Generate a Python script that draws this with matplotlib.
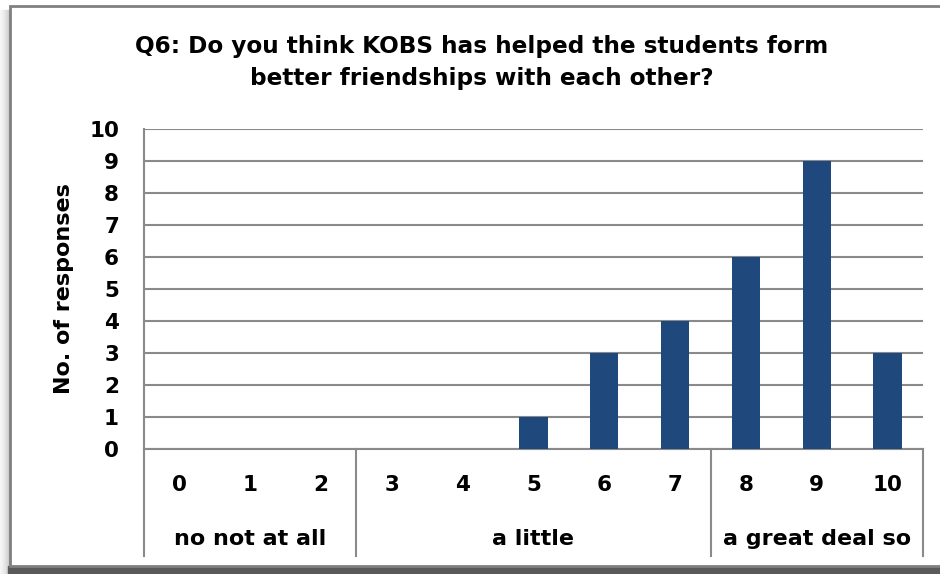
import matplotlib.pyplot as plt
from matplotlib.patches import Rectangle
from matplotlib.lines import Line2D
import matplotlib.transforms as mtransforms

# survey responses for Q6, scale 0-10
puntajes = ['0', '1', '2', '3', '4', '5', '6', '7', '8', '9', '10']
respuestas = [0, 0, 0, 0, 0, 1, 3, 4, 6, 9, 3]
grupos = ['no not at all', 'a little', 'a great deal so']
grupo_limites = [(0, 2), (3, 7), (8, 10)]

titulo = 'Q6: Do you think KOBS has helped the students form\nbetter friendships with each other?'

W, H = 940, 574
plt.rcParams['font.family'] = ['DejaVu Sans']
plt.rcParams['font.weight'] = 'bold'

fig = plt.figure(figsize=(W / 100, H / 100), dpi=100)


def fx(px):
    return px / W


def fy(py):
    return 1 - py / H


# frame with a soft shadow on the left and bottom
for i, c in enumerate(['#f6f6f6', '#efefef', '#e6e6e6', '#dadada', '#cccccc']):
    fig.patches.append(Rectangle((fx(i * 2), fy(574)), fx(2), fy(10) - fy(574),
                                 transform=fig.transFigure, color=c, zorder=0))
fig.patches.append(Rectangle((fx(8), fy(574)), fx(940), fy(566) - fy(574),
                             transform=fig.transFigure, color='#5a5a5a', zorder=0))
fig.patches.append(Rectangle((fx(10), fy(566)), fx(940), fy(6) - fy(566),
                             transform=fig.transFigure, facecolor='white',
                             edgecolor='#808080', linewidth=2, zorder=1))

ax = fig.add_axes([fx(144), fy(449), fx(923) - fx(144), fy(129) - fy(449)])
ax.set_zorder(2)
x = list(range(len(puntajes)))
ax.bar(x, respuestas, width=0.4, color='#1f497d', zorder=3)

ax.set_xlim(-0.5, len(puntajes) - 0.5)
ax.set_ylim(0, 10)
ax.set_yticks(range(0, 11))
ax.yaxis.grid(True, color='#8a8a8a', linewidth=1.5)
ax.set_axisbelow(True)
for s in ['top', 'right']:
    ax.spines[s].set_visible(False)
ax.spines['left'].set_color('#8a8a8a')
ax.spines['bottom'].set_color('#8a8a8a')
ax.spines['left'].set_linewidth(1.5)
ax.spines['bottom'].set_linewidth(1.5)
ax.tick_params(axis='y', length=0, pad=18, labelsize=15.5)
ax.set_xticks([])
ax.set_ylabel('No. of responses', fontsize=16, fontweight='bold', labelpad=11)

# two-level category axis
trans = mtransforms.blended_transform_factory(ax.transData, ax.transAxes)
for xi, p in zip(x, puntajes):
    ax.text(xi, -0.1125, p, transform=trans, ha='center', va='center',
            fontsize=15.5, fontweight='bold')
for g, (a, b) in zip(grupos, grupo_limites):
    ax.text((a + b) / 2, -0.281, g, transform=trans, ha='center', va='center',
            fontsize=16, fontweight='bold')
for xs in [-0.5, 2.5, 7.5, 10.5]:
    ax.add_line(Line2D([xs, xs], [0, -0.334], transform=trans, color='#8a8a8a',
                       linewidth=1.5, clip_on=False))

fig.text(fx(482), fy(63), titulo, ha='center', va='center', fontsize=16.7,
         fontweight='bold', linespacing=1.5)

fig.savefig('out.png', dpi=100)
